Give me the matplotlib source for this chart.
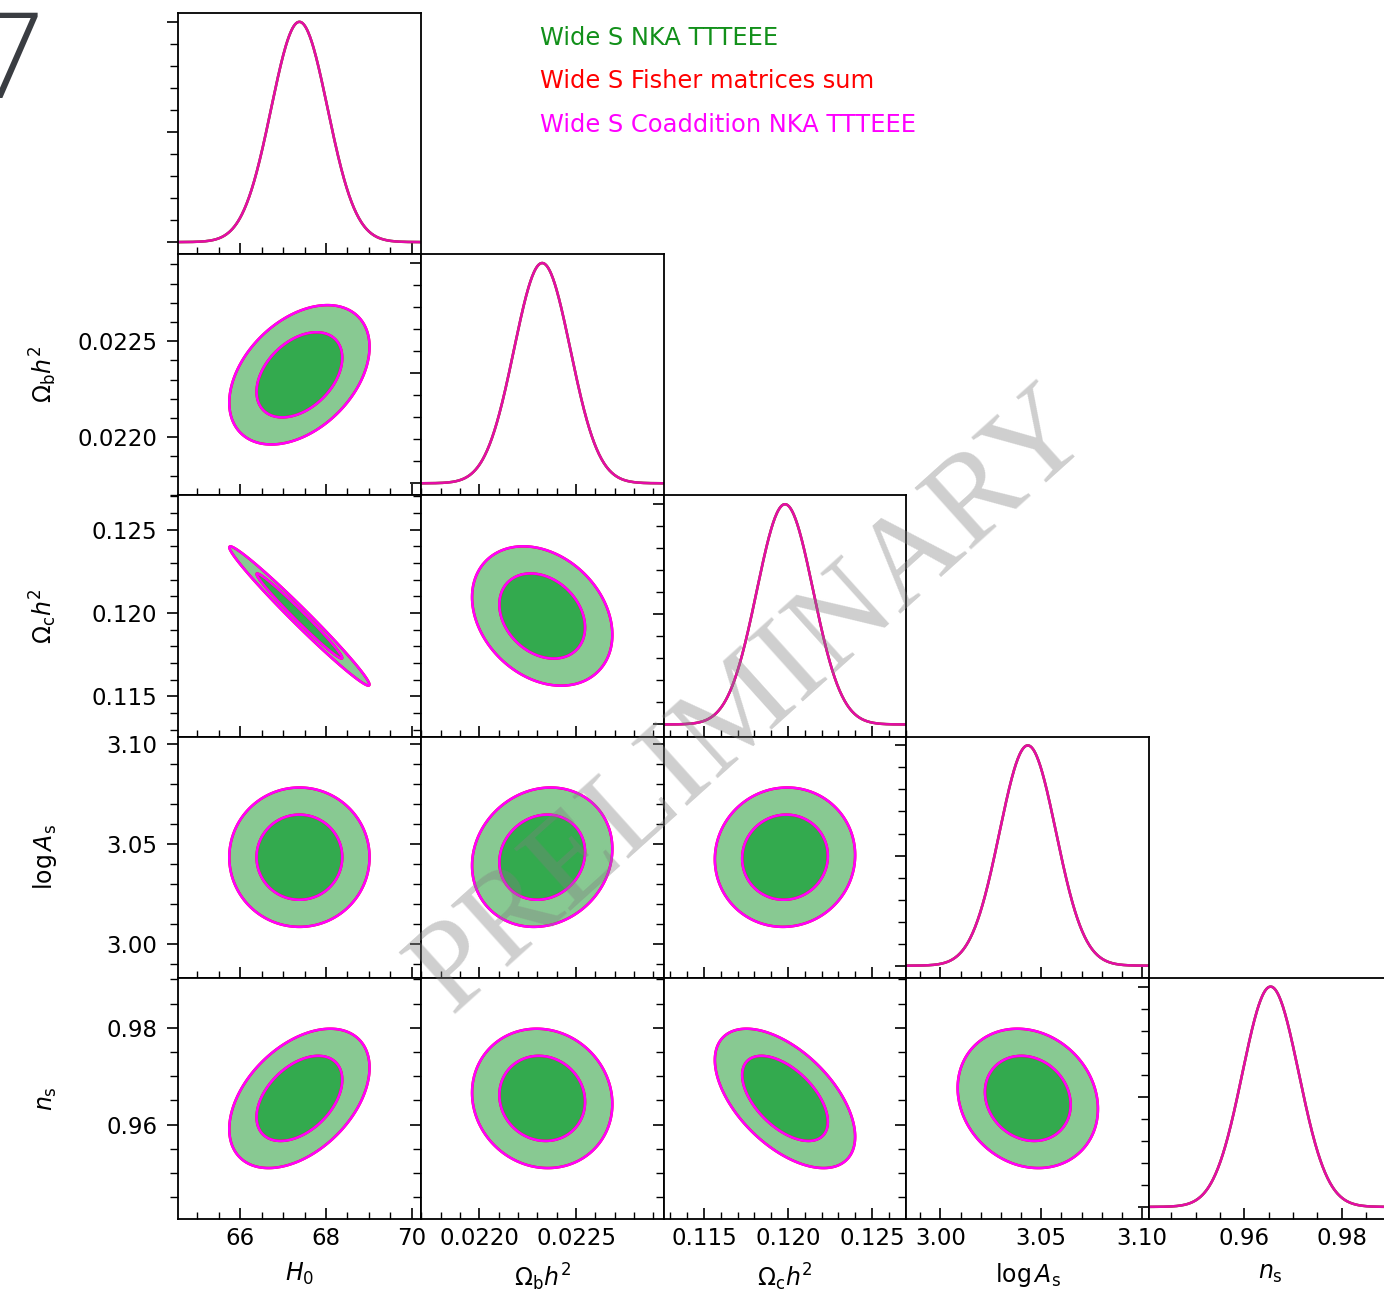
import numpy as np
import matplotlib.pyplot as plt
from matplotlib.ticker import MultipleLocator, AutoMinorLocator, FormatStrFormatter, NullFormatter

# parameter names, fiducial means and 1-sigma errors
labels = [r"$H_0$", r"$\Omega_\mathrm{b}h^2$", r"$\Omega_\mathrm{c}h^2$",
          r"$\log A_\mathrm{s}$", r"$n_\mathrm{s}$"]
means = [67.38, 0.022325, 0.11982, 3.0433, 0.9654]
sigmas = [0.658, 0.000146, 0.00168, 0.0140, 0.0058]

# correlation matrix (H0, ombh2, omch2, logA, ns)
corr = [
    [1.00, 0.40, -0.986, 0.00, 0.44],
    [0.40, 1.00, -0.27, 0.12, -0.08],
    [-0.986, -0.27, 1.00, 0.03, -0.55],
    [0.00, 0.12, 0.03, 1.00, -0.15],
    [0.44, -0.08, -0.55, -0.15, 1.00],
]

major_step = [2, 0.0005, 0.005, 0.05, 0.02]
minor_div = [4, 5, 5, 5, 4]
tick_fmt = ["%d", "%.4f", "%.3f", "%.2f", "%.2f"]

legend_labels = ["Wide S NKA TTTEEE", "Wide S Fisher matrices sum",
                 "Wide S Coaddition NKA TTTEEE"]
legend_colors = ["#12901a", "#ff0000", "#ff00ff"]

chi2_levels = [2.30, 6.17]   # 68% and 95% for 2 dof
fill_dark, fill_light = "#33aa4e", "#88c992"
nsig = 4.3

W, H = 1384, 1292
fig = plt.figure(figsize=(W / 100, H / 100), dpi=100)
x0, dx = 178, 242.8
y0, dy = 13, 241.2

n = len(means)
lims = [(m - nsig * s, m + nsig * s) for m, s in zip(means, sigmas)]


def style_axes(ax, i, j, diag):
    ax.set_xlim(*lims[i])
    ax.xaxis.set_major_locator(MultipleLocator(major_step[i]))
    ax.xaxis.set_minor_locator(AutoMinorLocator(minor_div[i]))
    ax.xaxis.set_major_formatter(FormatStrFormatter(tick_fmt[i]))
    if diag:
        ax.set_ylim(-0.055, 1.04)
        ax.yaxis.set_major_locator(MultipleLocator(0.5))
        ax.yaxis.set_minor_locator(MultipleLocator(0.1))
        ax.yaxis.set_major_formatter(NullFormatter())
    else:
        ax.set_ylim(*lims[j])
        ax.yaxis.set_major_locator(MultipleLocator(major_step[j]))
        ax.yaxis.set_minor_locator(AutoMinorLocator(minor_div[j]))
        ax.yaxis.set_major_formatter(FormatStrFormatter(tick_fmt[j]))
    ax.tick_params(axis="x", which="both", direction="in", labelsize=16.5, pad=6)
    ax.tick_params(axis="x", which="major", length=8, width=1.2)
    ax.tick_params(axis="x", which="minor", length=5, width=1.0)
    ax.tick_params(axis="y", which="both", direction="out", labelsize=16.5, pad=7)
    ax.tick_params(axis="y", which="major", length=8, width=1.2)
    ax.tick_params(axis="y", which="minor", length=6, width=1.0)
    for sp in ax.spines.values():
        sp.set_linewidth(1.3)
    if j < n - 1:
        ax.tick_params(axis="x", labelbottom=False)
    else:
        ax.set_xlabel(labels[i], fontsize=17)
        ax.xaxis.set_label_coords(0.5, -0.175)
    if i > 0 or diag:
        ax.tick_params(axis="y", labelleft=False)
    else:
        ax.set_ylabel(labels[j], fontsize=17)
        ax.yaxis.set_label_coords(-0.49, 0.5)


for j in range(n):
    for i in range(j + 1):
        ax = fig.add_axes([(x0 + i * dx) / W, 1 - (y0 + (j + 1) * dy) / H, dx / W, dy / H])
        if i == j:
            x = np.linspace(*lims[i], 400)
            p = np.exp(-0.5 * ((x - means[i]) / sigmas[i]) ** 2)
            ax.plot(x, p, color="green", lw=1.8)
            ax.plot(x, p, color="red", lw=1.8, alpha=0.7)
            ax.plot(x, p, color="magenta", lw=1.8, alpha=0.65)
            style_axes(ax, i, j, True)
        else:
            sx, sy = sigmas[i], sigmas[j]
            r = corr[j][i]
            cov = np.array([[sx * sx, r * sx * sy], [r * sx * sy, sy * sy]])
            icov = np.linalg.inv(cov)
            gx = np.linspace(*lims[i], 300)
            gy = np.linspace(*lims[j], 300)
            X, Y = np.meshgrid(gx, gy)
            ddx, ddy = X - means[i], Y - means[j]
            chi2 = icov[0, 0] * ddx ** 2 + 2 * icov[0, 1] * ddx * ddy + icov[1, 1] * ddy ** 2
            ax.contourf(X, Y, chi2, levels=[0] + chi2_levels, colors=[fill_dark, fill_light])
            ax.contour(X, Y, chi2, levels=chi2_levels, colors="red", linewidths=1.8)
            ax.contour(X, Y, chi2, levels=chi2_levels, colors="magenta", linewidths=1.8)
            style_axes(ax, i, j, False)

for k, (txt, c) in enumerate(zip(legend_labels, legend_colors)):
    fig.text(540 / W, 1 - (38 + 43.5 * k) / H, txt, color=c, fontsize=17.4, va="center", ha="left")

fig.text(752 / W, 1 - 703 / H, "PRELIMINARY", rotation=42, fontsize=92,
         family="Liberation Serif", color="0.5", alpha=0.38,
         ha="center", va="center", zorder=100)

fig.text(44 / W, 1 - 6 / H, "7", fontsize=86, color="#3a3d42", ha="right", va="top",
         family=["Open Sans", "DejaVu Sans"], weight="light")

fig.savefig("out.png", dpi=100)
